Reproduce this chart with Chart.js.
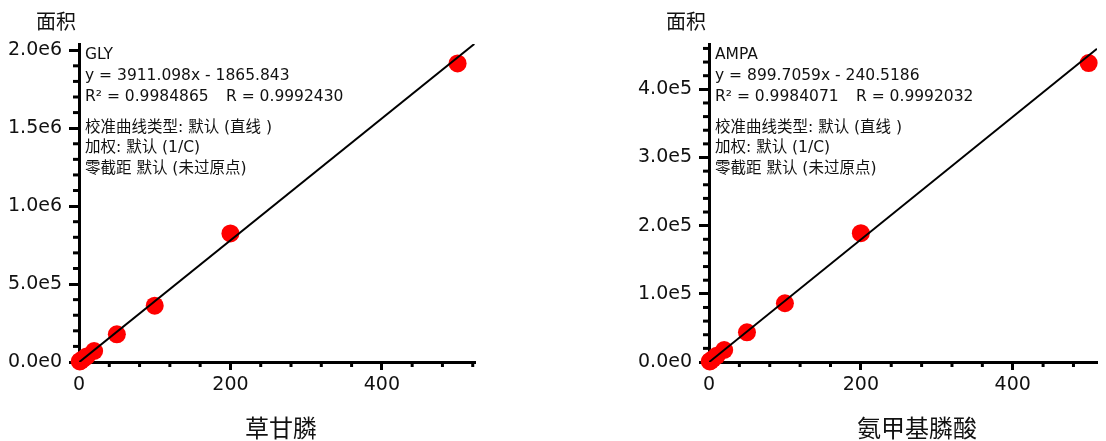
<!DOCTYPE html>
<html>
<head>
<meta charset="utf-8">
<script src="https://cdn.jsdelivr.net/npm/chart.js@4.4.0/dist/chart.umd.min.js"></script>
<style>
  html, body { margin: 0; padding: 0; background: #fff; }
  .box { position: absolute; top: 0; width: 553px; height: 441px; }
</style>
</head>
<body>
<div class="box" style="left:0"><canvas id="glyChart"></canvas></div>
<div class="box" style="left:553px"><canvas id="ampaChart"></canvas></div>
<script>
// calibration levels (x) and measured peak areas (y)
const concentrations = [1, 2, 5, 10, 20, 50, 100, 200, 500];
const glyAreas = [3500, 7000, 18000, 36000, 70500, 177500, 361000, 825000, 1915000];
const ampaAreas = [900, 1800, 4400, 9000, 17600, 43600, 86200, 189000, 438600];

// fit: [slope, intercept]
const glyFit = [3911.098, -1865.843];
const ampaFit = [899.7059, -240.5186];

// tick labels
const xTicks = [0, 200, 400];
const glyYTicks = [0, 5e5, 1e6, 1.5e6, 2e6];
const ampaYTicks = [0, 1e5, 2e5, 3e5, 4e5];

const glyNotes = ["GLY", "y = 3911.098x - 1865.843", ["R² = 0.9984865", "R = 0.9992430"],
  "校准曲线类型: 默认 (直线 )", "加权: 默认 (1/C)", "零截距 默认 (未过原点)"];
const ampaNotes = ["AMPA", "y = 899.7059x - 240.5186", ["R² = 0.9984071", "R = 0.9992032"],
  "校准曲线类型: 默认 (直线 )", "加权: 默认 (1/C)", "零截距 默认 (未过原点)"];

const FONT = "'DejaVu Sans', 'Noto Sans CJK SC', sans-serif";
const CJK = "'Noto Sans CJK SC', 'Noto Sans', sans-serif";

function sci(v) {
  if (v === 0) return "0.0e0";
  const e = Math.floor(Math.log10(v) + 1e-9);
  return (v / Math.pow(10, e)).toFixed(1) + "e" + e;
}

function range(step, max, skip) {
  const out = [];
  for (let v = step; v <= max + 1e-6; v += step) {
    if (Math.abs(v / skip - Math.round(v / skip)) > 1e-6) out.push(v);
  }
  return out;
}

// minor ticks + titles + annotation text
const decor = {
  id: "decor",
  beforeDatasetsDraw(chart, args, o) {
    const ctx = chart.ctx, a = chart.chartArea;
    const xs = chart.scales.x, ys = chart.scales.y;
    ctx.save();
    ctx.strokeStyle = "#000";
    ctx.lineWidth = 3;
    o.xMinor.forEach(function (v) {
      const px = xs.getPixelForValue(v);
      ctx.beginPath(); ctx.moveTo(px, a.bottom); ctx.lineTo(px, a.bottom + 5); ctx.stroke();
    });
    o.yMinor.forEach(function (v) {
      const py = ys.getPixelForValue(v);
      ctx.beginPath(); ctx.moveTo(a.left, py); ctx.lineTo(a.left - 6, py); ctx.stroke();
    });

    ctx.fillStyle = "#111";
    ctx.textBaseline = "middle";
    // y title
    ctx.font = "20px " + CJK;
    ctx.textAlign = "right";
    ctx.fillText("面积", a.left - 3, 21);
    // x title
    ctx.font = "24px " + CJK;
    ctx.textAlign = "center";
    ctx.fillText(o.xTitle, (a.left + a.right) / 2 + o.xTitleShift, 428);
    // notes
    ctx.font = "15.5px " + FONT;
    ctx.textAlign = "left";
    const rows = [55, 76, 97, 128, 148, 169];
    const lx = a.left + 6;
    o.notes.forEach(function (t, i) {
      if (Array.isArray(t)) {
        ctx.fillText(t[0], lx, rows[i]);
        ctx.fillText(t[1], lx + 141, rows[i]);
      } else {
        ctx.fillText(t, lx, rows[i]);
      }
    });
    ctx.restore();
  }
};

function makeChart(id, areas, fit, yTicks, cfg) {
  const x0 = -fit[1] / fit[0];
  const x1 = Math.min(cfg.xMax, (cfg.yMax - fit[1]) / fit[0]);
  new Chart(document.getElementById(id), {
    type: "scatter",
    data: {
      datasets: [
        {
          type: "line",
          data: [{ x: x0, y: 0 }, { x: x1, y: fit[0] * x1 + fit[1] }],
          borderColor: "#000",
          borderWidth: 2,
          pointRadius: 0,
          order: 0
        },
        {
          data: concentrations.map((c, i) => ({ x: c, y: areas[i] })),
          backgroundColor: "#ff0000",
          borderWidth: 0,
          pointRadius: 9,
          pointHoverRadius: 9,
          clip: false,
          order: 1
        }
      ]
    },
    options: {
      responsive: true,
      maintainAspectRatio: false,
      animation: false,
      layout: { padding: { top: 44, right: cfg.padRight, left: 0, bottom: 0 } },
      plugins: {
        legend: { display: false },
        tooltip: { enabled: false },
        decor: {
          xMinor: range(40, cfg.xMax, 200),
          yMinor: range(cfg.yMinorStep, cfg.yMax, yTicks[1]),
          xTitle: cfg.xTitle,
          xTitleShift: cfg.xTitleShift,
          notes: cfg.notes
        }
      },
      scales: {
        x: {
          type: "linear",
          min: 0,
          max: cfg.xMax,
          afterBuildTicks: (s) => { s.ticks = xTicks.map((v) => ({ value: v })); },
          afterFit: (s) => { s.height = 79; },
          border: { color: "#000", width: 3 },
          grid: { drawOnChartArea: false, tickLength: 8, tickWidth: 3, tickColor: "#000" },
          ticks: {
            padding: 4,
            color: "#111",
            font: { family: FONT, size: 19 },
            maxRotation: 0,
            autoSkip: false
          }
        },
        y: {
          type: "linear",
          min: 0,
          max: cfg.yMax,
          afterBuildTicks: (s) => { s.ticks = yTicks.map((v) => ({ value: v })); },
          afterFit: (s) => { s.width = cfg.yWidth; },
          border: { color: "#000", width: 3 },
          grid: { drawOnChartArea: false, tickLength: 10, tickWidth: 3, tickColor: "#000" },
          ticks: {
            padding: 7,
            color: "#111",
            font: { family: FONT, size: 19 },
            autoSkip: false,
            callback: (v) => sci(v)
          }
        }
      }
    },
    plugins: [decor]
  });
}

makeChart("glyChart", glyAreas, glyFit, glyYTicks, {
  xMax: 523, yMax: 2.04e6, yMinorStep: 1e5,
  padRight: 78, yWidth: 79, xTitle: "草甘膦", xTitleShift: 4, notes: glyNotes
});
makeChart("ampaChart", ampaAreas, ampaFit, ampaYTicks, {
  xMax: 511, yMax: 4.665e5, yMinorStep: 2e4,
  padRight: 0, yWidth: 156, xTitle: "氨甲基膦酸", xTitleShift: 14, notes: ampaNotes
});
</script>
</body>
</html>
